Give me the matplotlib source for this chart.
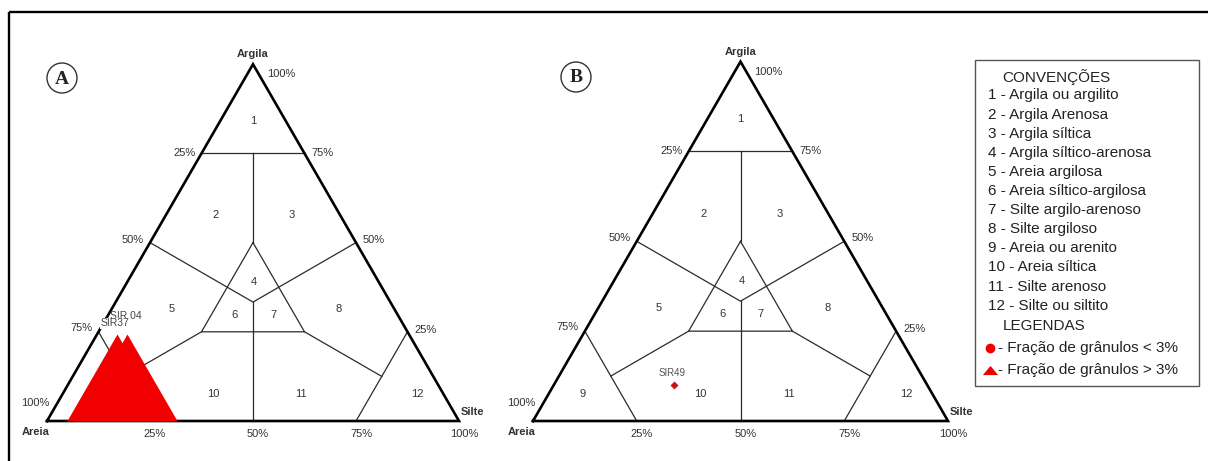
import numpy as np
import matplotlib
matplotlib.use("Agg")
import matplotlib.pyplot as plt
from matplotlib.patches import Rectangle, Circle
from matplotlib.path import Path

plt.rcParams["font.family"] = ["Liberation Sans", "DejaVu Sans"]

# ---- sample compositions (%) ----
samples_a = ["SIR37", "SIR 04"]
areia_a = [79.0, 76.5]
silte_a = [13.0, 15.5]
argila_a = [8.0, 8.0]

samples_b = ["SIR49"]
areia_b = [61.0]
silte_b = [29.0]
argila_b = [10.0]

# ---- classification fields ----
region_ids = ["1", "2", "3", "4", "5", "6", "7", "8", "9", "10", "11", "12"]
conventions = [
    "Argila ou argilito",
    "Argila Arenosa",
    "Argila síltica",
    "Argila síltico-arenosa",
    "Areia argilosa",
    "Areia síltico-argilosa",
    "Silte argilo-arenoso",
    "Silte argiloso",
    "Areia ou arenito",
    "Areia síltica",
    "Silte arenoso",
    "Silte ou siltito",
]
legend_items = ["- Fração de grânulos < 3%", "- Fração de grânulos > 3%"]
edge_ticks = [0.25, 0.5, 0.75, 1.0]

W, H = 1208, 461
SQ3 = np.sqrt(3) / 2
LINE = "#2b2b2b"
TXT = "#333333"
RED = "#f20000"


def tern(sand, silt, clay):
    """Composition (fractions) -> cartesian position in the triangle."""
    sand, silt, clay = (np.asarray(v, dtype=float) for v in (sand, silt, clay))
    tot = sand + silt + clay
    s, c = silt / tot, clay / tot
    return s + c / 2, c * SQ3


# Boundaries of the Shepard-type fields, as (sand, silt, clay) chains
c3 = 1 / 3
boundaries = [
    [(0.25, 0, 0.75), (0, 0.25, 0.75)],
    [(0.125, 0.125, 0.75), (0.25, 0.25, 0.5)],
    [(0.25, 0.25, 0.5), (0.5, 0.25, 0.25), (0.25, 0.5, 0.25), (0.25, 0.25, 0.5)],
    [(0.5, 0, 0.5), (c3, c3, c3), (0, 0.5, 0.5)],
    [(c3, c3, c3), (0.5, 0.5, 0)],
    [(0.5, 0.25, 0.25), (0.75, 0.125, 0.125)],
    [(0.25, 0.5, 0.25), (0.125, 0.75, 0.125)],
    [(0.75, 0, 0.25), (0.75, 0.25, 0)],
    [(0, 0.75, 0.25), (0.25, 0.75, 0)],
]

# label anchors for the field numbers (cartesian, base = 1)
region_xy = [(0.500, 0.728), (0.410, 0.500), (0.595, 0.500), (0.502, 0.337),
             (0.303, 0.272), (0.456, 0.257), (0.549, 0.257), (0.709, 0.272),
             (0.120, 0.065), (0.403, 0.066), (0.617, 0.066), (0.900, 0.066)]

PT = 0.72  # points per pixel at 100 dpi

fig = plt.figure(figsize=(W / 100, H / 100), dpi=100)
fig.patch.set_facecolor("white")

canvas = fig.add_axes([0, 0, 1, 1])
canvas.set_xlim(0, W)
canvas.set_ylim(H, 0)
canvas.axis("off")
canvas.add_patch(Rectangle((9, 12), 1400, 700, fill=False, lw=1.7, ec="black"))


def ternary_axes(x0, x1, left, right, base):
    scale = right - left
    ax = fig.add_axes([x0 / W, 0, (x1 - x0) / W, 1])
    ax.set_xlim((x0 - left) / scale, (x1 - left) / scale)
    ax.set_ylim((base - H) / scale, base / scale)
    ax.axis("off")
    ax.patch.set_alpha(0)
    return ax


def off_text(ax, txt, xy, dx, dy, **kw):
    ax.annotate(txt, xy=xy, xytext=(dx * PT, -dy * PT), textcoords="offset points",
                va="center", fontsize=8, color=TXT, **kw)


def draw_diagram(ax):
    # outline
    vx, vy = tern([1, 0, 0, 1], [0, 1, 0, 0], [0, 0, 1, 0])
    ax.plot(vx, vy, color="black", lw=1.9, solid_joinstyle="miter", zorder=2)
    for chain in boundaries:
        a, s, c = zip(*chain)
        x, y = tern(a, s, c)
        ax.plot(x, y, color=LINE, lw=0.9, zorder=1)
    for rid, (x, y) in zip(region_ids, region_xy):
        ax.text(x, y, rid, ha="center", va="center", fontsize=8, color=TXT, zorder=1)

    # edge percentages
    left_off = {0.25: (-6, -4), 0.5: (-6, -3), 0.75: (-6, 0)}
    right_off = {0.25: (7, -2), 0.5: (7, -3), 0.75: (7, 0)}
    for t in edge_ticks:
        if t < 1:
            x, y = tern(1 - t, 0, t)
            off_text(ax, f"{int(round((1 - t) * 100))}%", (x, y), *left_off[t], ha="right")
            x, y = tern(0, 1 - t, t)
            off_text(ax, f"{int(t * 100)}%", (x, y), *right_off[t], ha="left")
        x, y = tern(1 - t, t, 0)
        off_text(ax, f"{int(t * 100)}%", (x, y), 5, 13, ha="center")
    off_text(ax, "100%", tern(1, 0, 0), 2, -18, ha="right")
    off_text(ax, "100%", tern(0, 0, 1), 14, 10, ha="left")

    off_text(ax, "Argila", tern(0, 0, 1), 0, -10, ha="center", fontweight="bold")
    off_text(ax, "Silte", tern(0, 1, 0), 2, -9, ha="left", fontweight="bold")
    off_text(ax, "Areia", tern(1, 0, 0), -11, 11, ha="center", fontweight="bold")


# equilateral triangle marker, centred on its centroid
tri_marker = Path([(0, 2 / 3), (-1 / np.sqrt(3), -1 / 3), (1 / np.sqrt(3), -1 / 3), (0, 2 / 3)],
                  [Path.MOVETO, Path.LINETO, Path.LINETO, Path.CLOSEPOLY])

# ---------------- diagram A ----------------
axA = ternary_axes(0, 520, 47, 459, 421)
draw_diagram(axA)
xa, ya = tern(np.array(areia_a) / 100, np.array(silte_a) / 100, np.array(argila_a) / 100)
axA.plot(xa, ya, linestyle="none", marker=tri_marker, ms=83.5, color=RED, mec="none", zorder=5)
label_off_a = {"SIR37": (-2, -69), "SIR 04": (-2, -76)}
# SIR 04 first, so that the SIR37 tag sits on top of it
for name in ("SIR 04", "SIR37"):
    i = samples_a.index(name)
    dx, dy = label_off_a[name]
    kw = {}
    if name == "SIR37":
        kw["bbox"] = dict(boxstyle="square,pad=0.05", fc="white", ec="none")
    axA.annotate(name, xy=(xa[i], ya[i]), xytext=(dx * PT, -dy * PT), textcoords="offset points",
                 ha="center", va="center", fontsize=7.5, color="#444444", zorder=6, **kw)

# ---------------- diagram B ----------------
axB = ternary_axes(500, 990, 533, 948, 421)
draw_diagram(axB)
xb, yb = tern(np.array(areia_b) / 100, np.array(silte_b) / 100, np.array(argila_b) / 100)
axB.plot(xb, yb, linestyle="none", marker="D", ms=4.2, color="#c81414", mec="none", zorder=5)
for name, x, y in zip(samples_b, xb, yb):
    axB.annotate(name, xy=(x, y), xytext=(-2 * PT, 12 * PT), textcoords="offset points",
                 ha="center", va="center", fontsize=7, color="#555555", zorder=6)

# ---------------- panel letters ----------------
for letter, cx, cy in (("A", 62, 78), ("B", 576, 77)):
    canvas.add_patch(Circle((cx, cy), 15, fill=False, lw=1.0, ec="#333333"))
    canvas.text(cx, cy + 1, letter, ha="center", va="center", fontsize=14,
                fontweight="bold", family="Liberation Serif", color="#222222")

# ---------------- legend box ----------------
LEG_FS = 11
canvas.add_patch(Rectangle((975, 60), 224, 326, fill=False, lw=1.0, ec="#555555"))
canvas.text(1002, 77, "CONVENÇÕES", ha="left", va="center", fontsize=LEG_FS, color="#222222")
for i, name in enumerate(conventions):
    canvas.text(988, 95.5 + i * 19.1, f"{i + 1} - {name}", ha="left", va="center",
                fontsize=LEG_FS, color="#222222")
canvas.text(1003, 326, "LEGENDAS", ha="left", va="center", fontsize=LEG_FS, color="#222222")
canvas.plot([990], [348], linestyle="none", marker="o", ms=7, color=RED, mec="none")
wide_tri = Path([(0, 0.6), (-1, -0.6), (1, -0.6), (0, 0.6)],
                [Path.MOVETO, Path.LINETO, Path.LINETO, Path.CLOSEPOLY])
canvas.plot([990], [370], linestyle="none", marker=wide_tri, ms=11, color=RED, mec="none")
for j, item in enumerate(legend_items):
    canvas.text(998, 348 + j * 22, item, ha="left", va="center", fontsize=LEG_FS, color="#222222")

fig.savefig("out.png", dpi=100, facecolor="white")
